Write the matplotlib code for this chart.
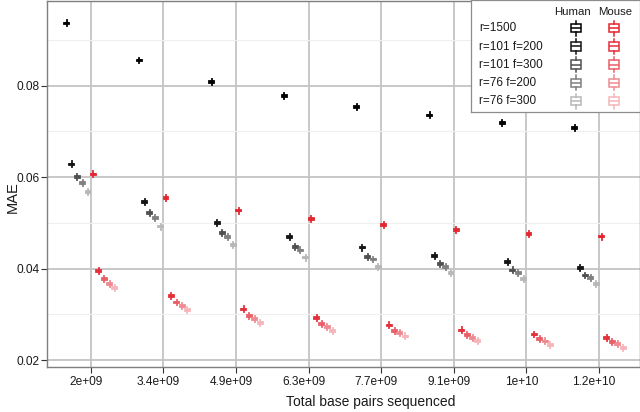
import numpy as np
import matplotlib
matplotlib.use('Agg')
import matplotlib.pyplot as plt
from matplotlib.transforms import ScaledTranslation

# x categories (total base pairs sequenced)
categories = ['2e+09', '3.4e+09', '4.9e+09', '6.3e+09', '7.7e+09', '9.1e+09', '1e+10', '1.2e+10']
settings = ['r=1500', 'r=101 f=200', 'r=101 f=300', 'r=76 f=200', 'r=76 f=300']

# median MAE per category
human_r1500 = [0.0936, 0.0855, 0.0808, 0.0777, 0.0753, 0.0735, 0.0719, 0.0708]
human_r101_f200 = [0.0628, 0.0545, 0.0500, 0.0469, 0.0446, 0.0428, 0.0414, 0.0402]
human_r101_f300 = [0.0600, 0.0521, 0.0478, 0.0447, 0.0425, 0.0410, 0.0396, 0.0385]
human_r76_f200 = [0.0587, 0.0511, 0.0469, 0.0440, 0.0420, 0.0404, 0.0391, 0.0380]
human_r76_f300 = [0.0567, 0.0492, 0.0452, 0.0424, 0.0404, 0.0390, 0.0377, 0.0367]
mouse_r1500 = [0.0606, 0.0554, 0.0527, 0.0508, 0.0495, 0.0484, 0.0476, 0.0470]
mouse_r101_f200 = [0.0395, 0.0340, 0.0311, 0.0292, 0.0276, 0.0265, 0.0256, 0.0249]
mouse_r101_f300 = [0.0378, 0.0326, 0.0297, 0.0279, 0.0264, 0.0255, 0.0246, 0.0239]
mouse_r76_f200 = [0.0367, 0.0319, 0.0290, 0.0273, 0.0259, 0.0249, 0.0241, 0.0235]
mouse_r76_f300 = [0.0357, 0.0309, 0.0281, 0.0264, 0.0252, 0.0242, 0.0233, 0.0227]

# boxes are tiny: half-IQR and half whisker span (estimated)
box_half = 0.00018
whisker_half = 0.00065

human_series = [human_r1500, human_r101_f200, human_r101_f300, human_r76_f200, human_r76_f300]
mouse_series = [mouse_r1500, mouse_r101_f200, mouse_r101_f300, mouse_r76_f200, mouse_r76_f300]
human_colors = ['#000000', '#141414', '#505050', '#808080', '#b8b8b8']
mouse_colors = ['#e3262f', '#e3303a', '#e95f68', '#ee8b92', '#f4b6ba']

plt.rcParams['font.family'] = ['Liberation Sans', 'DejaVu Sans']


def box_stats(values, half, whisk):
    return [dict(med=v, q1=v - half, q3=v + half, whislo=v - whisk, whishi=v + whisk) for v in values]


def draw_boxes(axis, stats, pos, width, col, lw=1.0):
    axis.bxp(stats, positions=pos, widths=width, showfliers=False, showcaps=False,
             patch_artist=True, manage_ticks=False, zorder=3,
             boxprops=dict(facecolor='white', edgecolor=col, linewidth=lw),
             whiskerprops=dict(color=col, linewidth=lw),
             medianprops=dict(color=col, linewidth=lw))


fig = plt.figure(figsize=(6.4, 4.12), dpi=100)
ax = fig.add_axes([47 / 640, 45 / 412, 593 / 640, 366 / 412])

x = np.arange(1, len(categories) + 1)
all_series = human_series + mouse_series
all_colors = human_colors + mouse_colors
n = len(all_series)
step = 0.074
for j, (vals, col) in enumerate(zip(all_series, all_colors)):
    draw_boxes(ax, box_stats(vals, box_half, whisker_half), x + (j - (n - 1) / 2) * step, 0.068, col, 1.3)

ax.set_xlim(0.398, 8.566)
ax.set_ylim(0.0185, 0.0985)
ax.set_xticks(x, categories)
ax.set_yticks([0.02, 0.04, 0.06, 0.08], ['0.02', '0.04', '0.06', '0.08'])
ax.set_yticks([0.03, 0.05, 0.07, 0.09], minor=True)
ax.grid(which='major', color='#c4c4c4', linewidth=1.3)
ax.grid(which='minor', axis='y', color='#efefef', linewidth=0.8)
ax.set_axisbelow(True)
ax.tick_params(which='minor', length=0)
ax.tick_params(which='major', length=4.3, width=0.8, color='#333333', labelsize=8.6, labelcolor='#1a1a1a')
ax.tick_params(axis='x', pad=2.2)
ax.tick_params(axis='y', pad=0.8)
for lab in ax.get_xticklabels():
    lab.set_transform(lab.get_transform() + ScaledTranslation(-0.05, 0, fig.dpi_scale_trans))
for sp in ax.spines.values():
    sp.set_color('#7f7f7f')
    sp.set_linewidth(1.0)

ax.set_xlabel('Total base pairs sequenced', fontsize=10, color='#1a1a1a')
ax.set_ylabel('MAE', fontsize=10.5, color='#1a1a1a')
ax.xaxis.set_label_coords((371 - 47) / 593, (367 - 402) / 366)
ax.xaxis.label.set_va('center')
ax.yaxis.set_label_coords((13 - 47) / 593, (367 - 197) / 366)
ax.yaxis.label.set_va('center')

# legend drawn in its own small axes, pixel coordinates
lax = fig.add_axes([470.7 / 640, 1 - 111.7 / 412, (639.5 - 470.7) / 640, 111.7 / 412])
lax.set_xlim(0, 168.8)
lax.set_ylim(111.7, 0)
lax.set_xticks([])
lax.set_yticks([])
lax.set_facecolor('white')
for sp in lax.spines.values():
    sp.set_color('#8c8c8c')
    sp.set_linewidth(0.9)
lax.text(101.8, 11.7, 'Human', ha='center', va='center', fontsize=8.2, color='#1a1a1a')
lax.text(144.0, 11.7, 'Mouse', ha='center', va='center', fontsize=8.2, color='#1a1a1a')
for i, name in enumerate(settings):
    yk = 28.3 + 18.2 * i
    lax.text(8.6, yk, name, ha='left', va='center', fontsize=8.5, color='#1a1a1a')
    draw_boxes(lax, box_stats([yk], 4.2, 7.5), [105.3], 9.7, human_colors[i], 1.1)
    draw_boxes(lax, box_stats([yk], 4.2, 7.5), [143.3], 9.7, mouse_colors[i], 1.1)

fig.savefig('out.png', dpi=100)
